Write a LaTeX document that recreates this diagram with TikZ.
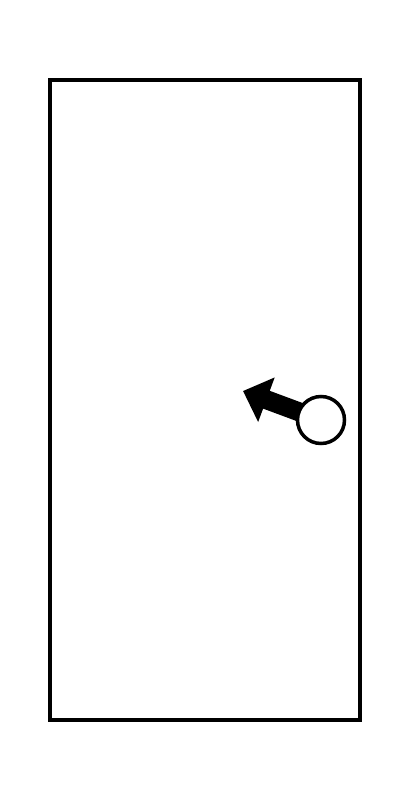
\documentclass[tikz,border=0pt]{standalone}
\usepackage{tikz}
\usetikzlibrary{arrows.meta}

\begin{document}
\begin{tikzpicture}[x=1pt, y=-1pt,
        door/.style={draw, line width=3.5pt},
        knob/.style={circle, draw, fill=white, line width=3.5pt, minimum size=47pt, inner sep=0pt},
        push/.style={line width=19pt, -{Triangle[length=25pt, width=46pt]}}]
        \useasboundingbox (0,0) rectangle (400,800);
        \draw[door] (50,80) rectangle (360,720);
        \coordinate (hub) at (321,420);
        \coordinate (tip) at (243,391);
        \draw[push] (hub) -- (tip);
        \node[knob] (knob) at (hub) {};
    \end{tikzpicture}
\end{document}
